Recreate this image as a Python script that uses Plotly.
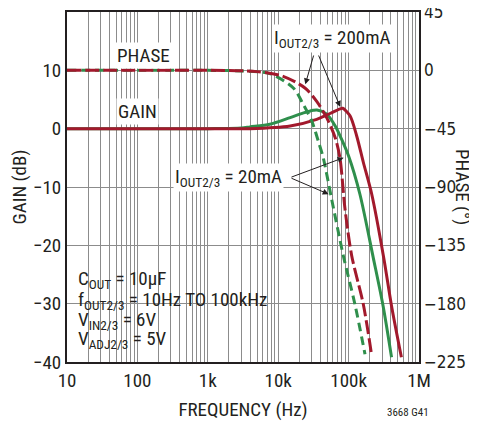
import plotly.graph_objects as go

# ---------------- data ----------------
g20_freq = [10, 1000, 3000, 3981, 7586, 14791, 22909, 31623, 35481, 48978, 64565, 79433, 100000, 144544, 223872, 309030, 407380]
g20_gain = [0, 0, 0.1, 0.3, 0.75, 1.9, 2.7, 3.15, 3.2, 2.5, 0.46, -1.8, -4.7, -11.2, -22.1, -30.4, -39.2]

g200_freq = [10, 1000, 3981, 14791, 35237, 54450, 75858, 82414, 104713, 130317, 162181, 212814, 316228, 407380, 562341]
g200_gain = [0, 0, 0, 0.46, 1.6, 2.6, 3.4, 3.5, 2.2, -1.25, -5.8, -11.2, -22.2, -30.4, -39.2]

p20_freq = [10, 1000, 3000, 7586, 16406, 22751, 29923, 37154, 43652, 57544, 84140, 123027, 171000]
p20_phase = [0, 0, -0.5, -2.5, -13.6, -26.4, -39, -54.7, -67.5, -99.6, -143, -180.5, -219]

p200_freq = [10, 1000, 5000, 11749, 23988, 35237, 48978, 64565, 75500, 88920, 110662, 161808, 212814]
p200_phase = [0, 0, -1, -4.6, -13.6, -23.9, -36.7, -52, -68, -107, -143, -180.5, -220]

x_tickvals = [10, 100, 1000, 10000, 100000, 1000000]
x_ticktext = ["10", "100", "1k", "10k", "100k", "1M"]
gain_ticks = [20, 10, 0, -10, -20, -30, -40]
gain_ticktext = ["20", "10", "0", "−10", "−20", "−30", "−40"]
phase_ticks = [45, 0, -45, -90, -135, -180, -225]
phase_ticktext = ["45", "0", "−45", "−90", "−135", "−180", "−225"]

cond_lines = ["C<sub>OUT</sub> = 10μF",
              "f<sub>OUT2/3</sub> = 10Hz TO 100kHz",
              "V<sub>IN2/3</sub> = 6V",
              "V<sub>ADJ2/3</sub> = 5V"]

RED = "#a2192c"
GREEN = "#2f8f4c"
TXT = "#231f20"
GRID = "#8c8c8c"
FONT = "Liberation Sans Narrow, Roboto Condensed, Arial Narrow, sans-serif"
FONT_R = "DejaVu Sans Condensed, Liberation Sans Narrow, sans-serif"
FS = 19

fig = go.Figure()
fig.add_trace(go.Scatter(x=g20_freq, y=g20_gain, mode="lines", line=dict(color=GREEN, width=3, shape="spline", smoothing=0.8), showlegend=False))
fig.add_trace(go.Scatter(x=g200_freq, y=g200_gain, mode="lines", line=dict(color=RED, width=3, shape="spline", smoothing=0.8), showlegend=False))
fig.add_trace(go.Scatter(x=p20_freq, y=p20_phase, yaxis="y2", mode="lines", line=dict(color=GREEN, width=3, dash="9px,5px", shape="spline", smoothing=0.8), showlegend=False))
fig.add_trace(go.Scatter(x=p200_freq, y=p200_phase, yaxis="y2", mode="lines", line=dict(color=RED, width=3, dash="14px,4px", shape="spline", smoothing=0.8), showlegend=False))

# page body has an 8px margin: figure is sized/offset to compensate
fig.update_layout(
    width=469, height=417,
    margin=dict(l=59, r=58, t=4, b=63),
    paper_bgcolor="white", plot_bgcolor="white",
    font=dict(family=FONT, size=FS, color=TXT),
    xaxis=dict(type="log", range=[1, 6], tickvals=x_tickvals, ticktext=x_ticktext, automargin=False,
               showgrid=True, gridcolor=GRID, gridwidth=1,
               minor=dict(dtick="D1", showgrid=True, gridcolor=GRID, gridwidth=1, ticks=""),
               showline=True, linecolor=TXT, linewidth=2, mirror=True, ticks="",
               zeroline=False,
               title=dict(text="FREQUENCY (Hz)", standoff=12, font=dict(size=FS))),
    yaxis=dict(range=[-40, 20], tickvals=gain_ticks, ticktext=gain_ticktext, automargin=False,
               showgrid=True, gridcolor=GRID, gridwidth=1,
               showline=True, linecolor=TXT, linewidth=2, mirror=True, ticks="", zeroline=False,
               title=dict(text="GAIN (dB)", standoff=4, font=dict(size=FS))),
    yaxis2=dict(range=[-225, 45], automargin=False, showticklabels=False,
                overlaying="y", side="right",
                showgrid=False, zeroline=False, ticks="", showline=False),
)

# conditions box (hides gridlines)
fig.add_shape(type="rect", xref="paper", yref="paper", x0=0.004, x1=0.597, y0=0.015, y1=0.275,
              fillcolor="white", line=dict(width=0), layer="between")

# right-hand phase tick labels
for val, txt in zip(phase_ticks, phase_ticktext):
    fig.add_annotation(xref="paper", yref="y2", x=1.0, y=val, xanchor="left", yanchor="middle",
                       xshift=3, text=txt, showarrow=False,
                       font=dict(family=FONT_R, size=17, color=TXT))

ann_common = dict(showarrow=False, font=dict(family=FONT, size=FS, color=TXT), bgcolor="white")
fig.add_annotation(x=2.09, y=12.6, text="PHASE", **ann_common)
fig.add_annotation(x=2.0, y=2.9, text="GAIN", **ann_common)
fig.add_annotation(x=4.764, y=15.4, text="I<sub>OUT2/3</sub> = 200mA", **ann_common)
fig.add_annotation(x=3.287, y=-8.4, text="I<sub>OUT2/3</sub> = 20mA", **ann_common)

cond_y = [0.235, 0.175, 0.12, 0.063]
for txt, yy in zip(cond_lines, cond_y):
    fig.add_annotation(xref="paper", yref="paper", x=0.025, y=yy, xanchor="left", yanchor="middle",
                       text=txt, showarrow=False, font=dict(family=FONT, size=FS, color=TXT))

arrow = dict(showarrow=True, arrowhead=2, arrowsize=1.2, arrowwidth=1, arrowcolor=TXT,
             axref="x", ayref="y", text="")
fig.add_annotation(x=4.385, y=7.6, ax=4.509, ay=12.8, **arrow)
fig.add_annotation(x=4.882, y=3.72, ax=4.565, ay=12.8, **arrow)
fig.add_annotation(x=4.93, y=-4.97, ax=4.168, ay=-8.39, **arrow)
fig.add_annotation(x=4.717, y=-11.23, ax=4.168, ay=-8.39, **arrow)

fig.add_annotation(xref="paper", yref="paper", x=1.125, y=0.5, xanchor="center", yanchor="middle",
                   text="PHASE (°)", textangle=90,
                   showarrow=False, font=dict(family=FONT, size=FS, color=TXT))
fig.add_annotation(xref="paper", yref="paper", x=0.97, y=-0.145, xanchor="center", yanchor="middle",
                   text="3668 G41", showarrow=False, font=dict(family=FONT, size=11, color=TXT))

fig.write_html("out.html")
